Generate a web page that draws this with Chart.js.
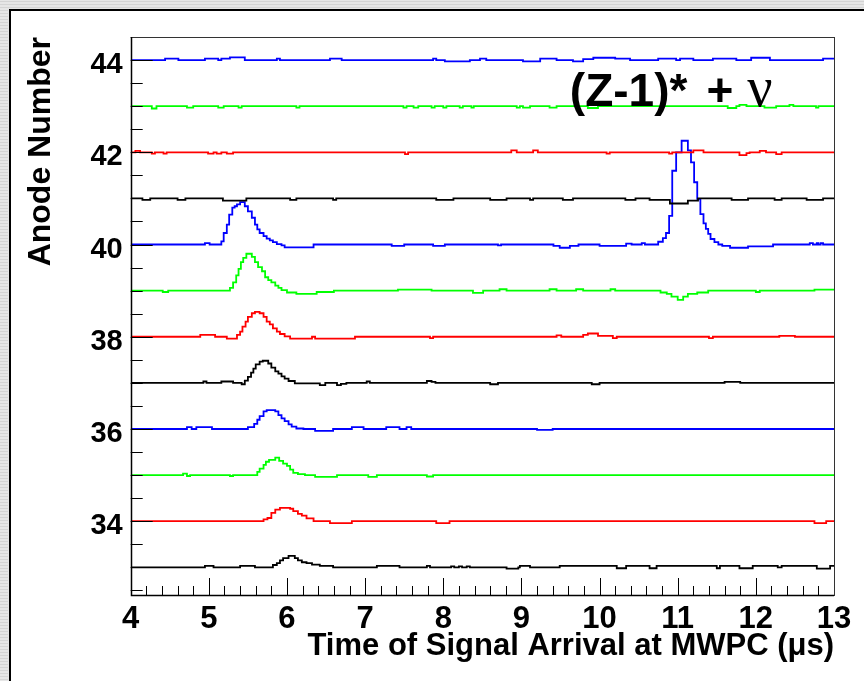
<!DOCTYPE html>
<html>
<head>
<meta charset="utf-8">
<title>Anode signals vs arrival time</title>
<script src="https://cdn.jsdelivr.net/npm/chart.js@4/dist/chart.umd.min.js"></script>
<style>
  html, body { margin: 0; padding: 0; background: #fff; }
  #wrap { width: 864px; height: 681px; }
  canvas { display: block; }
</style>
</head>
<body>
<div id="wrap"><canvas id="chart" width="864" height="681"></canvas></div>
<script>
// Step histograms, one per anode wire. Each pair is [time in µs, signal above the
// anode baseline]; the level holds until the next pair.
const anodes = [44, 43, 42, 41, 40, 39, 38, 37, 36, 35, 34, 33];

const a44 = [[4, 0], [4.44, 0.03], [4.61, 0], [4.95, 0.03], [5.12, 0], [5.16, 0.03], [5.27, 0.06], [5.46, 0],
  [5.87, 0.03], [5.91, 0], [6.55, 0.03], [6.7, 0], [7.87, 0.03], [7.91, 0], [8.02, -0.03], [8.34, 0], [8.47, 0.03],
  [8.55, 0], [9.02, -0.03], [9.24, 0.03], [9.45, 0], [9.66, -0.03], [9.79, 0.02], [9.92, 0.05], [10.2, 0.03],
  [10.39, 0], [10.75, 0.03], [10.98, 0], [11.03, 0.03], [11.2, 0], [11.45, 0.03], [11.75, 0], [11.94, 0.05],
  [12.18, 0], [12.86, 0.03]];
const a43 = [[4, 0], [4.27, -0.05], [4.33, 0], [4.72, -0.03], [4.8, 0], [5.12, -0.03], [5.19, 0], [5.38, -0.03],
  [5.42, 0], [6.12, -0.03], [6.16, 0], [7.49, -0.03], [7.53, 0], [7.62, -0.03], [7.68, 0], [7.85, -0.03], [7.89, 0],
  [8.0, -0.03], [8.04, 0], [8.21, -0.03], [8.25, 0], [8.36, -0.03], [8.39, 0], [8.94, -0.03], [8.98, 0],
  [9.02, -0.03], [9.11, 0], [9.36, -0.03], [9.45, 0], [9.85, -0.04], [9.98, 0], [11.64, -0.04], [11.75, 0],
  [11.79, 0.03], [11.88, 0], [12.11, -0.03], [12.26, 0], [12.43, 0.03], [12.48, 0], [12.77, -0.03], [12.8, 0]];
const a42 = [[4, 0], [4.06, 0.03], [4.12, 0], [4.27, -0.03], [4.31, 0], [4.42, -0.03], [4.46, 0], [4.99, -0.03],
  [5.06, 0], [5.1, -0.03], [5.16, 0], [5.23, -0.03], [5.31, 0], [7.51, -0.04], [7.55, 0], [8.87, 0.04], [8.94, 0],
  [9.15, 0.04], [9.21, 0], [10.09, -0.03], [10.13, 0], [10.89, -0.03], [10.93, 0], [11.2, 0.04], [11.33, 0],
  [11.79, -0.06], [11.88, -0.02], [11.92, 0], [12.05, 0.03], [12.13, 0], [12.26, -0.04], [12.33, 0]];
const a41 = [[4, 0], [4.15, -0.03], [4.25, 0], [4.6, -0.03], [4.7, 0], [5.18, -0.05], [5.48, 0], [6.04, -0.03],
  [6.12, 0], [6.59, -0.03], [6.63, 0], [7.91, -0.03], [8.13, 0], [8.6, -0.03], [8.81, 0], [9.11, -0.03], [9.15, 0],
  [9.53, -0.03], [9.66, 0], [10.33, -0.03], [10.46, 0], [10.64, -0.03], [10.9, -0.11], [11.13, -0.05], [11.26, 0],
  [11.69, -0.03], [11.9, 0], [12.24, -0.03], [12.33, 0], [12.65, -0.03], [12.86, 0]];
const a40 = [[4, 0], [4.95, 0.03], [5.01, 0], [5.16, 0.07], [5.19, 0.25], [5.23, 0.43], [5.26, 0.65], [5.3, 0.8],
  [5.33, 0.83], [5.36, 0.87], [5.4, 0.92], [5.46, 0.83], [5.5, 0.72], [5.55, 0.58], [5.59, 0.43], [5.62, 0.33],
  [5.65, 0.25], [5.7, 0.18], [5.74, 0.13], [5.78, 0.09], [5.82, 0.05], [5.87, 0.01], [5.93, -0.02], [5.97, -0.06],
  [6.34, 0], [7.34, -0.03], [7.5, 0], [7.87, -0.03], [8.02, 0], [8.7, -0.02], [8.74, 0], [9.41, -0.03],
  [9.49, -0.07], [9.62, -0.03], [9.73, 0], [10.0, -0.03], [10.34, 0.02], [10.41, 0], [10.54, 0.03], [10.58, 0],
  [10.75, 0.06], [10.81, 0.14], [10.85, 0.25], [10.89, 0.62], [10.93, 1.6], [10.98, 2.0], [11.05, 2.25],
  [11.13, 2.04], [11.17, 1.78], [11.21, 1.35], [11.25, 0.99], [11.29, 0.66], [11.33, 0.46], [11.36, 0.34],
  [11.39, 0.23], [11.42, 0.12], [11.47, 0.05], [11.52, 0], [11.57, -0.03], [11.67, -0.07], [11.9, -0.04],
  [12.22, 0], [12.69, 0.03], [12.73, 0], [12.78, 0.03], [12.8, 0], [12.83, 0.03], [12.86, 0]];
const a39 = [[4, 0], [4.41, -0.03], [4.48, 0], [5.27, 0.06], [5.31, 0.18], [5.35, 0.33], [5.38, 0.47], [5.41, 0.62],
  [5.44, 0.71], [5.48, 0.8], [5.55, 0.73], [5.59, 0.62], [5.63, 0.51], [5.68, 0.42], [5.72, 0.29], [5.76, 0.23],
  [5.8, 0.18], [5.85, 0.11], [5.89, 0.06], [5.93, 0.01], [6.0, -0.04], [6.12, -0.07], [6.38, -0.03], [6.6, 0],
  [7.42, 0.02], [7.85, 0], [8.38, -0.05], [8.51, 0], [8.72, 0.03], [8.81, 0], [9.36, 0.03], [9.45, 0], [9.7, 0.03],
  [9.79, 0], [10.14, 0.03], [10.2, 0], [10.78, -0.04], [10.86, -0.07], [10.92, -0.13], [11.0, -0.2], [11.07, -0.13],
  [11.13, -0.07], [11.25, -0.04], [11.39, 0], [12.0, -0.03], [12.05, 0], [12.75, 0.02]];
const a38 = [[4, 0], [4.89, 0.04], [5.08, 0], [5.23, -0.04], [5.36, 0.04], [5.4, 0.11], [5.43, 0.22], [5.47, 0.33],
  [5.5, 0.43], [5.55, 0.51], [5.59, 0.54], [5.65, 0.51], [5.7, 0.43], [5.74, 0.33], [5.78, 0.27], [5.82, 0.18],
  [5.87, 0.11], [5.91, 0.06], [5.97, 0.01], [6.04, -0.04], [6.32, 0], [6.36, -0.04], [6.87, 0], [7.83, -0.03],
  [7.87, 0], [9.45, 0.03], [9.51, 0], [9.79, 0.04], [9.85, 0.07], [9.98, 0.02], [10.17, -0.03], [10.22, 0],
  [11.4, -0.03], [11.45, 0], [12.3, 0.02], [12.5, 0]];
const a37 = [[4, 0], [4.93, 0.03], [4.97, 0], [5.16, 0.03], [5.31, 0], [5.42, -0.03], [5.46, 0.05], [5.5, 0.13],
  [5.54, 0.22], [5.57, 0.31], [5.6, 0.4], [5.65, 0.46], [5.69, 0.48], [5.76, 0.42], [5.8, 0.33], [5.85, 0.25],
  [5.89, 0.2], [5.93, 0.14], [5.97, 0.09], [6.02, 0.04], [6.1, -0.01], [6.42, -0.05], [6.49, 0], [6.64, -0.05],
  [6.69, -0.02], [6.76, 0], [7.02, 0.03], [7.06, 0], [7.79, 0.04], [7.85, 0.02], [7.9, 0], [8.6, -0.03], [8.7, 0],
  [9.9, -0.03], [10.0, 0], [11.6, 0.02], [11.8, 0]];
const a36 = [[4, 0], [4.72, 0.04], [4.78, 0], [4.84, 0.04], [5.04, 0], [5.5, 0.04], [5.58, 0.11], [5.62, 0.2],
  [5.65, 0.28], [5.7, 0.38], [5.74, 0.41], [5.85, 0.38], [5.89, 0.3], [5.93, 0.23], [5.97, 0.17], [6.02, 0.1],
  [6.06, 0.05], [6.12, 0.01], [6.21, 0], [6.36, -0.04], [6.59, 0], [6.83, 0.04], [6.98, 0], [7.27, 0.04],
  [7.44, 0], [7.53, 0.04], [7.59, 0], [9.2, -0.02], [9.4, 0]];
const a35 = [[4, 0], [4.67, 0.03], [4.72, -0.02], [4.76, 0], [5.27, -0.02], [5.31, 0], [5.62, 0.07], [5.65, 0.14],
  [5.7, 0.22], [5.73, 0.29], [5.77, 0.33], [5.85, 0.38], [5.9, 0.31], [5.95, 0.25], [6.0, 0.2], [6.04, 0.12],
  [6.08, 0.05], [6.14, 0.02], [6.23, 0], [6.36, -0.04], [6.64, 0], [7.04, -0.04], [7.15, 0], [7.79, -0.03],
  [7.87, 0]];
const a34 = [[4, 0], [5.7, 0.04], [5.75, 0.07], [5.8, 0.18], [5.85, 0.25], [5.91, 0.29], [6.04, 0.27], [6.08, 0.22],
  [6.14, 0.16], [6.19, 0.12], [6.25, 0.06], [6.34, 0], [6.55, -0.04], [6.83, 0], [7.91, -0.04], [8.08, 0],
  [12.75, -0.04], [12.9, 0]];
const a33 = [[4, 0], [4.95, 0.03], [5.06, 0], [5.4, 0.03], [5.59, 0], [5.82, 0.05], [5.87, 0.09], [5.91, 0.15],
  [5.95, 0.2], [6.02, 0.25], [6.1, 0.2], [6.14, 0.15], [6.19, 0.11], [6.25, 0.09], [6.32, 0.06], [6.42, 0.03],
  [6.59, 0], [7.15, 0.03], [7.44, 0], [7.79, 0.03], [7.83, 0], [8.1, 0.02], [8.14, 0], [8.2, 0.02], [8.24, 0],
  [8.3, 0.02], [8.34, 0], [8.81, -0.03], [8.96, 0], [8.98, 0.03], [9.11, 0], [9.49, 0.03], [10.22, -0.02],
  [10.34, 0.03], [10.64, -0.02], [10.73, 0.03], [11.5, -0.02], [11.54, 0.03], [11.79, -0.02], [11.96, 0.03],
  [12.28, 0], [12.33, 0.03], [12.78, -0.03], [12.95, 0.03]];
const traces = [a44, a43, a42, a41, a40, a39, a38, a37, a36, a35, a34, a33];

// ROOT-like colour cycle, starting at the top wire
const lineColors = ['#0000ff', '#00ff00', '#ff0000', '#000000'];

// axes
const xRange = [4, 13];
const xMajorTicks = [4, 5, 6, 7, 8, 9, 10, 11, 12, 13];
const xMinorStep = 0.2;
const yRange = [32.4, 44.5];
const yMajorTicks = [34, 36, 38, 40, 42, 44];
const yMinorStep = 0.5;

const xTitle = 'Time of Signal Arrival at MWPC (μs)';
const yTitle = 'Anode Number';
const reaction = { head: '(Z-1)*', plus: '+', nu: 'ν', t: 9.62, anode: 43 };

const FONT = '"Liberation Sans", Arial, Helvetica, sans-serif';

function stepTicks(lo, hi, step) {
  const out = [];
  const n = Math.round((hi - lo) / step);
  for (let i = 0; i <= n; i++) out.push(+(lo + i * step).toFixed(2));
  return out;
}

const datasets = anodes.map((anode, i) => {
  const pts = traces[i].map(([t, v]) => ({ x: t, y: anode + v }));
  const last = traces[i][traces[i].length - 1];
  pts.push({ x: xRange[1], y: anode + last[1] });
  return {
    label: 'Anode ' + anode,
    data: pts,
    borderColor: lineColors[i % lineColors.length],
    borderWidth: 1.8,
    stepped: 'before',
    pointRadius: 0,
    fill: false,
  };
});

// page frame (screen-grab border at top/left)
const framePlugin = {
  id: 'frame',
  beforeDraw(chart) {
    const { ctx, width, height } = chart;
    ctx.save();
    ctx.fillStyle = '#ffffff';
    ctx.fillRect(0, 0, width, height);
    ctx.fillStyle = '#e6e6e6';
    ctx.fillRect(0, 0, width, 9);
    ctx.fillRect(0, 0, 9, height);
    ctx.fillStyle = '#d4d4d4';
    for (let y = 1; y < height; y += 3) ctx.fillRect(0, y, 8, 1);
    for (let y = 1; y < 9; y += 3) ctx.fillRect(0, y, width, 1);
    ctx.fillStyle = '#000';
    ctx.fillRect(9, 9, width - 9, 2);
    ctx.fillRect(9, 9, 2, height - 9);
    ctx.restore();
  },
};

// inward tick marks + plot box, ROOT style
const axesPlugin = {
  id: 'rootAxes',
  afterDatasetsDraw(chart) {
    const { ctx, chartArea: a, scales: { x, y } } = chart;
    ctx.save();
    ctx.strokeStyle = '#000';
    ctx.lineWidth = 1;
    ctx.beginPath();
    x.ticks.forEach((tk) => {
      const px = Math.round(x.getPixelForValue(tk.value)) + 0.5;
      const len = xMajorTicks.includes(tk.value) ? 17 : 9;
      ctx.moveTo(px, a.bottom);
      ctx.lineTo(px, a.bottom - len);
    });
    y.ticks.forEach((tk) => {
      const py = Math.round(y.getPixelForValue(tk.value)) + 0.5;
      const len = yMajorTicks.includes(tk.value) ? 22 : 12;
      ctx.moveTo(a.left, py);
      ctx.lineTo(a.left + len, py);
    });
    ctx.stroke();

    ctx.strokeStyle = '#333';
    ctx.strokeRect(Math.round(a.left) + 0.5, Math.round(a.top) + 0.5,
      Math.round(a.right - a.left), Math.round(a.bottom - a.top));
    ctx.strokeStyle = '#000';
    ctx.lineWidth = 1.5;
    ctx.beginPath();
    ctx.moveTo(Math.round(a.left) + 0.5, a.top);
    ctx.lineTo(Math.round(a.left) + 0.5, a.bottom + 0.5);
    ctx.lineTo(a.right, a.bottom + 0.5);
    ctx.stroke();

    // reaction label: bold "(Z-1)* +" and a Greek nu
    const lx = x.getPixelForValue(reaction.t);
    const ly = y.getPixelForValue(reaction.anode);
    ctx.fillStyle = '#000';
    ctx.textBaseline = 'alphabetic';
    ctx.font = 'bold 46px ' + FONT;
    ctx.fillText(reaction.head, lx, ly);
    const w1 = ctx.measureText(reaction.head).width;
    const px = lx + w1 + 19;
    ctx.fillText(reaction.plus, px, ly);
    const w2 = ctx.measureText(reaction.plus).width;
    ctx.font = '56px "Liberation Serif", "DejaVu Serif", serif';
    ctx.fillText(reaction.nu, px + w2 + 14, ly);
    ctx.restore();
  },
};

new Chart(document.getElementById('chart'), {
  type: 'line',
  data: { datasets },
  options: {
    responsive: false,
    animation: false,
    events: [],
    layout: { padding: { left: 10, right: 30, top: 37, bottom: 8 } },
    plugins: { legend: { display: false }, tooltip: { enabled: false } },
    scales: {
      x: {
        type: 'linear',
        min: xRange[0],
        max: xRange[1],
        afterBuildTicks: (s) => { s.ticks = stepTicks(xRange[0], xRange[1], xMinorStep).map((v) => ({ value: v })); },
        afterFit: (s) => { s.height = 78; },
        grid: { display: false, drawTicks: false },
        border: { display: false },
        ticks: {
          autoSkip: false,
          maxRotation: 0,
          padding: 6,
          color: '#000',
          font: { family: FONT, weight: 'bold', size: 31 },
          callback: (v) => (xMajorTicks.includes(v) ? String(v) : ''),
        },
        title: {
          display: true,
          text: xTitle,
          align: 'end',
          color: '#000',
          font: { family: FONT, weight: 'bold', size: 31 },
          padding: { top: 0, bottom: 8 },
        },
      },
      y: {
        type: 'linear',
        min: yRange[0],
        max: yRange[1],
        afterBuildTicks: (s) => { s.ticks = stepTicks(32.5, 44.5, yMinorStep).map((v) => ({ value: v })); },
        afterFit: (s) => { s.width = 120.7; },
        grid: { display: false, drawTicks: false },
        border: { display: false },
        ticks: {
          autoSkip: false,
          padding: 8,
          labelOffset: 5,
          color: '#000',
          font: { family: FONT, weight: 'bold', size: 29 },
          callback: (v) => (yMajorTicks.includes(v) ? String(v) : ''),
        },
        title: {
          display: true,
          text: yTitle,
          align: 'end',
          color: '#000',
          font: { family: FONT, weight: 'bold', size: 32 },
          padding: { top: 12, bottom: 0 },
        },
      },
    },
  },
  plugins: [framePlugin, axesPlugin],
});
</script>
</body>
</html>
